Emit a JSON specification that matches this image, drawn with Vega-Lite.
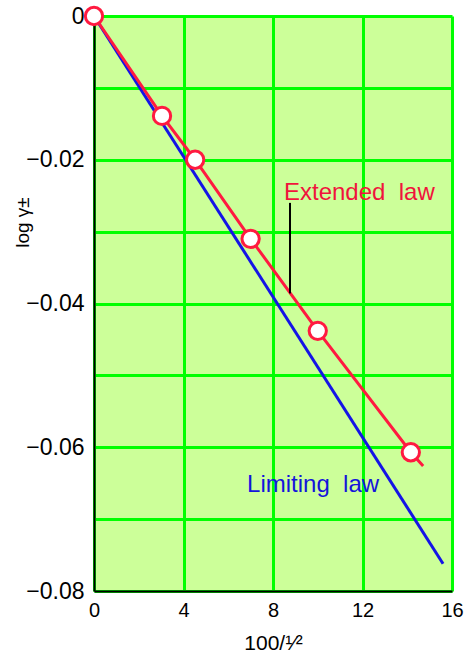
{
  "$schema": "https://vega.github.io/schema/vega-lite/v6.json",
  "width": 358,
  "height": 575,
  "autosize": "none",
  "padding": {"left": 94, "top": 16, "right": 12, "bottom": 69},
  "background": "white",
  "config": {
    "font": "Liberation Sans",
    "view": {"fill": "#ccff99", "stroke": null},
    "axis": {
      "gridColor": "#00ff00",
      "gridWidth": 3,
      "gridOpacity": 1,
      "domainColor": "#000000",
      "domainWidth": 2,
      "ticks": false,
      "labelFlush": false,
      "labelColor": "#000000",
      "titleColor": "#000000",
      "titleFontWeight": "normal",
      "labelFont": "Liberation Sans",
      "titleFont": "Liberation Sans"
    }
  },
  "datasets": {
    "limiting": [
      {"x": 0, "y": 0},
      {"x": 15.6, "y": -0.0762}
    ],
    "extended": [
      {"x": 0, "y": 0},
      {"x": 3.04, "y": -0.0139},
      {"x": 4.52, "y": -0.02},
      {"x": 7.0, "y": -0.031},
      {"x": 10.0, "y": -0.0438},
      {"x": 14.16, "y": -0.0607},
      {"x": 14.71, "y": -0.0626}
    ],
    "points": [
      {"x": 0, "y": 0},
      {"x": 3.04, "y": -0.0139},
      {"x": 4.52, "y": -0.02},
      {"x": 7.0, "y": -0.031},
      {"x": 10.0, "y": -0.0438},
      {"x": 14.16, "y": -0.0607}
    ],
    "pointer": [
      {"x": 8.76, "y": -0.026, "y2": -0.0386}
    ],
    "labels": [
      {"x": 8.49, "y": -0.0256, "text": "Extended\u00a0 law", "color": "#f0143c"},
      {"x": 6.84, "y": -0.0662, "text": "Limiting\u00a0 law", "color": "#1414dc"}
    ]
  },
  "layer": [
    {
      "data": {"name": "limiting"},
      "mark": {"type": "line", "color": "#1414e6", "strokeWidth": 3},
      "encoding": {
        "x": {
          "field": "x", "type": "quantitative",
          "scale": {"domain": [0, 16], "nice": false},
          "axis": {
            "values": [0, 4, 8, 12, 16],
            "title": "100/\u00b9\u2044\u00b2",
            "labelFontSize": 20,
            "labelPadding": 9,
            "titleFontSize": 21,
            "titlePadding": 12
          }
        },
        "y": {
          "field": "y", "type": "quantitative",
          "scale": {"domain": [-0.08, 0], "nice": false, "zero": false},
          "axis": {
            "values": [0, -0.01, -0.02, -0.03, -0.04, -0.05, -0.06, -0.07, -0.08],
            "labelExpr": "abs(round(datum.value*100)) % 2 == 1 ? '' : (datum.value == 0 ? '0' : format(datum.value, '.2f'))",
            "labelFontSize": 23,
            "labelPadding": 10,
            "title": "log \u03b3\u00b1",
            "titleFontSize": 19,
            "titleX": -72,
            "titleY": 206,
            "titleBaseline": "middle"
          }
        }
      }
    },
    {
      "data": {"name": "extended"},
      "mark": {"type": "line", "color": "#ff1a40", "strokeWidth": 3},
      "encoding": {
        "x": {"field": "x", "type": "quantitative"},
        "y": {"field": "y", "type": "quantitative"}
      }
    },
    {
      "data": {"name": "pointer"},
      "mark": {"type": "rule", "color": "#000000", "strokeWidth": 2},
      "encoding": {
        "x": {"field": "x", "type": "quantitative"},
        "y": {"field": "y", "type": "quantitative"},
        "y2": {"field": "y2"}
      }
    },
    {
      "data": {"name": "points"},
      "mark": {"type": "point", "shape": "circle", "filled": false, "fill": "white", "fillOpacity": 1, "stroke": "#ff1a40", "strokeWidth": 3, "size": 300, "opacity": 1},
      "encoding": {
        "x": {"field": "x", "type": "quantitative"},
        "y": {"field": "y", "type": "quantitative"}
      }
    },
    {
      "data": {"name": "labels"},
      "mark": {"type": "text", "align": "left", "baseline": "alphabetic", "fontSize": 24},
      "encoding": {
        "x": {"field": "x", "type": "quantitative"},
        "y": {"field": "y", "type": "quantitative"},
        "text": {"field": "text"},
        "color": {"field": "color", "type": "nominal", "scale": null}
      }
    }
  ]
}
